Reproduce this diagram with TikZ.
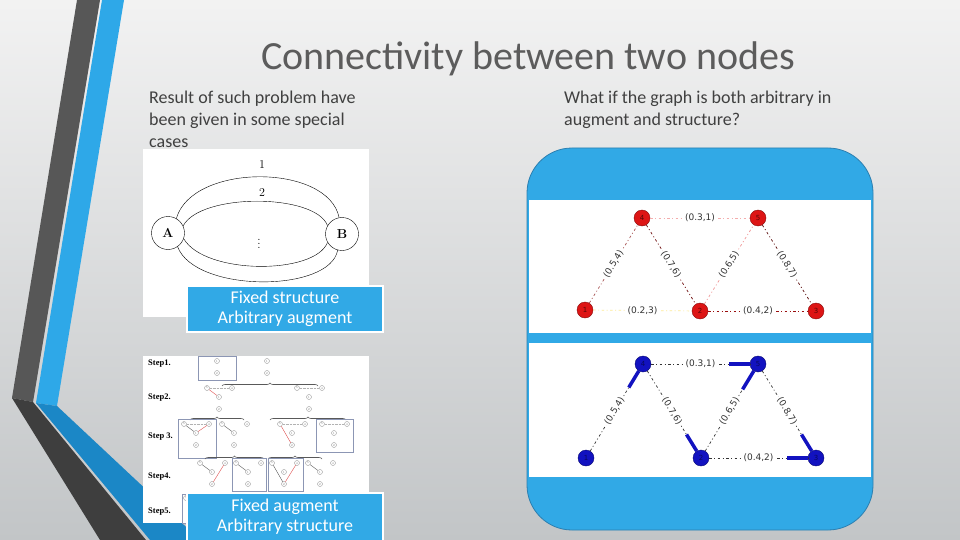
\documentclass[tikz,border=0pt]{standalone}
\usepackage{fontspec}
\usepackage{amsmath}
\usetikzlibrary{calc,decorations.pathreplacing}
\newfontfamily\slidefont{Carlito}
\newfontfamily\plotfont{DejaVu Sans}
\newfontfamily\stepfont{Liberation Serif}
\definecolor{bluebar}{HTML}{2EA8E8}
\definecolor{bluebardk}{HTML}{1B87C6}
\definecolor{greybar}{HTML}{575757}
\definecolor{greybardk}{HTML}{3E3E3E}
\definecolor{slideblue}{HTML}{31A9E6}
\definecolor{panelline}{HTML}{2C7FB0}
\definecolor{titlegrey}{HTML}{5C5C5C}
\definecolor{textgrey}{HTML}{404040}
\definecolor{nodered}{HTML}{DD1515}
\definecolor{nodeblue}{HTML}{1212C0}
\definecolor{framegrey}{HTML}{8C96B4}
\definecolor{stepred}{HTML}{E05050}

\tikzset{
  slidetext/.style={font=\slidefont\fontsize{18}{22}\selectfont, text=textgrey, anchor=north west, align=left, inner sep=0},
  tagbox/.style={fill=slideblue, draw=white, line width=1.5pt, minimum width=196pt, minimum height=46pt,
    inner sep=0, align=center, text=white, font=\slidefont\fontsize{18}{20}\selectfont},
  pathnode/.style={circle, draw, minimum size=33pt, inner sep=0, font=\bfseries\fontsize{13}{13}\selectfont},
  rnode/.style={circle, fill=nodered, draw=nodered!60!black, minimum size=16pt, inner sep=0,
    font=\plotfont\fontsize{7}{7}\selectfont, text=nodered!40!black},
  bnode/.style={circle, fill=nodeblue, draw=nodeblue!60!black, minimum size=16pt, inner sep=0,
    font=\plotfont\fontsize{7}{7}\selectfont, text=nodeblue!50!black},
  gedge/.style={line width=0.7pt, dash pattern=on 2.5pt off 2.5pt on 1pt off 2.5pt},
  edlabel/.style={midway, sloped, fill=white, inner sep=1.5pt, text=black!80, font=\plotfont\fontsize{9}{9}\selectfont},
  stub/.style={line width=3.5pt, nodeblue},
  stepdot/.style={circle, draw=gray!80, minimum size=5pt, inner sep=0, font=\fontsize{3}{3}\selectfont, text=gray},
  steplbl/.style={font=\stepfont\bfseries\fontsize{8.5}{9}\selectfont, anchor=west, inner sep=0},
  stepframe/.style={draw=framegrey, line width=0.5pt},
  brace/.style={decorate, decoration={brace, amplitude=3pt}, draw=gray!70!black, line width=0.6pt},
}

\begin{document}
\begin{tikzpicture}[x=1pt,y=-1pt]
  \useasboundingbox (0,0) rectangle (960,540);
  % background
  \shade[top color=gray!10, bottom color={rgb,255:red,194;green,197;blue,199}] (0,0) rectangle (960,540);
  % left bars
  \fill[greybar] (77,0) -- (100,0) -- (33,402) -- (12,398) -- cycle;
  \fill[greybardk] (12,398) -- (33,402) -- (146,540) -- (100,540) -- cycle;
  \fill[bluebar] (102,0) -- (124,0) -- (57,406) -- (36,403) -- cycle;
  \fill[bluebardk] (36,403) -- (57,406) -- (200,540) -- (150,540) -- cycle;

  % title and texts
  \node[font=\slidefont\fontsize{40}{44}\selectfont, text=titlegrey, anchor=base] (title) at (528,70) {Connectivity between two nodes};
  \node[slidetext] (lefttext) at (149,91) {Result of such problem have\\been given in some special\\cases};
  \node[slidetext] (righttext) at (564,91) {What if the graph is both arbitrary in\\augment and structure?};

  % fixed structure picture
  \fill[white] (143,149) rectangle (369,317);
  \node[pathnode] (A) at (168,233) {A};
  \node[pathnode] (B) at (342,234) {B};
  \draw (A.60) .. controls (192,163) and (328,163) .. (B.100);
  \draw (A.25) .. controls (200,193) and (315,193) .. (B.150);
  \draw (A.-20) .. controls (205,275) and (315,275) .. (B.-150);
  \draw (A.-55) .. controls (195,293) and (330,293) .. (B.-105);
  \node[font=\fontsize{12}{12}\selectfont] (one) at (262,165) {1};
  \node[font=\fontsize{12}{12}\selectfont] (two) at (262,193) {2};
  \node[font=\fontsize{12}{12}\selectfont] (dots) at (259,241) {$\vdots$};
  \node[tagbox] (tagone) at (285,309) {Fixed structure\\Arbitrary augment};

  % fixed augment picture
  \fill[white] (143,356) rectangle (369,523);
  \node[steplbl] (st1) at (148,364) {Step1.};
  \node[steplbl] (st2) at (148,398) {Step2.};
  \node[steplbl] (st3) at (148,437) {Step 3.};
  \node[steplbl] (st4) at (148,477) {Step4.};
  \node[steplbl] (st5) at (148,512) {Step5.};
  \draw[stepframe] (198,356) rectangle (236,380);
  \node[stepdot] (p1) at (217,361) {1};
  \node[stepdot] (p2) at (217,373) {2};
  \node[stepdot] (q1) at (267,361) {1};
  \node[stepdot] (q2) at (267,373) {2};
  \draw[brace] (222,386) -- (318,386);
  \foreach \g/\x/\y in {a/207/388, b/297/388, c/184/424, d/222/424, e/280/424,
                        f/322/424, g/200/463, h/236/463, i/272/463, j/308/463} {
    \node[stepdot] (\g5) at (\x,\y) {5};
    \node[stepdot] (\g4) at (\x+25,\y) {4};
    \node[stepdot] (\g1) at (\x+12,\y+9) {1};
    \node[stepdot] (\g2) at (\x+12,\y+21) {2};
  }
  \foreach \g in {a,b,c,e,f} \draw[gray!60, densely dotted] (\g5) -- (\g4);
  \draw[stepred] (a5) -- (a1);
  \draw[brace] (190,420) -- (244,420);
  \draw[brace] (270,420) -- (346,420);
  \draw[stepframe] (178,419) rectangle (216,458);
  \draw[stepframe] (316,419) rectangle (353,452);
  \draw[gray!70!black] (c5) -- (c1);
  \draw[stepred] (c1) -- (c4);
  \draw[gray!70!black] (d5) -- (d1);
  \draw[stepred] (e5) -- (e2);
  \draw[brace] (205,459) -- (264,459);
  \draw[brace] (268,459) -- (322,459);
  \draw[stepframe] (232,458) rectangle (266,491);
  \draw[stepframe] (268,458) rectangle (303,491);
  \draw[gray!70!black] (g5) -- (g1);
  \draw[stepred] (g2) -- (g4);
  \draw[gray!70!black] (h5) -- (h1);
  \draw[gray!70!black] (i5) -- (i2);
  \draw[stepred] (i2) -- (i4);
  \draw[gray!70!black] (j5) -- (j1);
  \draw[stepframe] (182,494) rectangle (196,523);
  \node[stepdot] (k5) at (186,498) {5};
  \node[tagbox, minimum height=48pt] (tagtwo) at (285,517) {Fixed augment\\Arbitrary structure};

  % right panel
  \draw[fill=slideblue, draw=panelline, line width=0.8pt, rounded corners=45pt] (527,148) rectangle (873,530);
  \fill[white] (529,200) rectangle (871,333);
  \fill[white] (529,343) rectangle (871,477);

  % graph with arbitrary augment
  \node[rnode] (r4) at (642,218) {4};
  \node[rnode] (r5) at (758,218) {5};
  \node[rnode] (r1) at (585,310) {1};
  \node[rnode] (r2) at (700,311) {2};
  \node[rnode] (r3) at (816,311) {3};
  \draw[gedge, nodered!35] (r4) -- (r5) node[edlabel] {(0.3,1)};
  \draw[gedge, nodered!60!black!70] (r1) -- (r4) node[edlabel] {(0.5,4)};
  \draw[gedge, nodered!50!black] (r4) -- (r2) node[edlabel] {(0.7,6)};
  \draw[gedge, nodered!45] (r2) -- (r5) node[edlabel] {(0.6,5)};
  \draw[gedge, nodered!40!black] (r5) -- (r3) node[edlabel] {(0.8,7)};
  \draw[gedge, yellow!70!orange!40] (r1) -- (r2) node[edlabel] {(0.2,3)};
  \draw[gedge, nodered!70!black] (r2) -- (r3) node[edlabel] {(0.4,2)};

  % graph with arbitrary structure
  \node[bnode] (b4) at (643,364) {4};
  \node[bnode] (b5) at (758,364) {5};
  \node[bnode] (b1) at (586,458) {1};
  \node[bnode] (b2) at (701,458) {2};
  \node[bnode] (b3) at (816,458) {3};
  \draw[gedge, black!80] (b4) -- (b5) node[edlabel] {(0.3,1)};
  \draw[gedge, black!80] (b1) -- (b4) node[edlabel] {(0.5,4)};
  \draw[gedge, black!80] (b4) -- (b2) node[edlabel] {(0.7,6)};
  \draw[gedge, black!80] (b2) -- (b5) node[edlabel] {(0.6,5)};
  \draw[gedge, black!80] (b5) -- (b3) node[edlabel] {(0.8,7)};
  \draw[gedge, black!80] (b2) -- (b3) node[edlabel] {(0.4,2)};
  \draw[stub] (b4) -- ($(b4)!0.25!(b1)$);
  \draw[stub] (b5) -- ($(b5)!0.25!(b4)$);
  \draw[stub] (b5) -- ($(b5)!0.27!(b2)$);
  \draw[stub] (b2) -- ($(b2)!0.25!(b4)$);
  \draw[stub] (b3) -- ($(b3)!0.25!(b5)$);
  \draw[stub] (b3) -- ($(b3)!0.25!(b2)$);
\end{tikzpicture}
\end{document}
